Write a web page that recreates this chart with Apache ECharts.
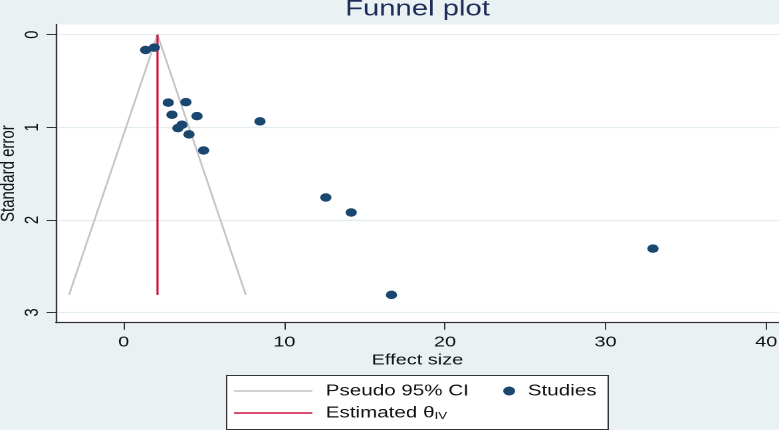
<!DOCTYPE html>
<html><head><meta charset="utf-8">
<script src="https://cdn.jsdelivr.net/npm/echarts@6/dist/echarts.min.js"></script>
<style>
html,body{margin:0;padding:0;overflow:hidden;background:#e9f1f3;width:779px;height:430px}
#c{width:586px;height:430px;transform:scaleX(1.3294);transform-origin:0 0;}
</style></head><body><div id="c"></div>
<script>
// Study points (effect size, standard error)
const studyEffect = [1.36, 1.90, 2.77, 3.87, 3.00, 4.56, 8.48, 3.37, 3.62, 4.06, 4.97, 12.58, 14.16, 32.95, 16.67];
const studySE     = [0.165, 0.14, 0.734, 0.728, 0.864, 0.879, 0.936, 1.009, 0.972, 1.077, 1.25, 1.758, 1.92, 2.31, 2.81];
// Pseudo 95% CI funnel (left bottom, apex, right bottom)
const ciEffect = [-3.41, 2.10, 7.60];
const ciSE     = [2.81, 0, 2.81];
// Estimated theta (IV) line
const thetaEffect = [2.10, 2.10];
const thetaSE     = [0, 2.81];
// Tick labels
const xTicks = [0, 10, 20, 30, 40];
const yTicks = [0, 1, 2, 3];

const FONT = 'Liberation Sans, Arial, sans-serif';
const zip = (a, b) => a.map((v, i) => [v, b[i]]);

const chart = echarts.init(document.getElementById('c'), null, {devicePixelRatio: 2});
chart.setOption({
  animation: false,
  backgroundColor: '#e9f1f3',
  textStyle: {fontFamily: FONT},
  title: {
    text: 'Funnel plot', left: 314, textAlign: 'center', top: -1.5, padding: 0,
    textStyle: {fontFamily: FONT, fontSize: 22, fontWeight: 'normal', color: '#1e2c5a'}
  },
  grid: {
    left: 42, right: 0, top: 24.5, bottom: 107.3,
    show: true, backgroundColor: '#ffffff', borderWidth: 0,
    containLabel: false, outerBoundsMode: 'none'
  },
  xAxis: {
    type: 'value', min: -4.23, max: 40.8,
    name: 'Effect size', nameLocation: 'middle', nameGap: 30, nameMoveOverlap: false,
    nameTextStyle: {fontFamily: FONT, fontSize: 15, color: '#111'},
    axisLine: {show: true, onZero: false, lineStyle: {color: '#333', width: 1.2}},
    axisTick: {show: true, length: 7, lineStyle: {color: '#333'}, customValues: xTicks},
    axisLabel: {fontFamily: FONT, fontSize: 15, color: '#111', margin: 12, customValues: xTicks},
    splitLine: {show: false}
  },
  yAxis: {
    type: 'value', inverse: true, min: -0.11, max: 3.11,
    name: 'Standard error', nameLocation: 'middle', nameGap: 28, nameRotate: 90, nameMoveOverlap: false,
    nameTextStyle: {fontFamily: FONT, fontSize: 15, color: '#111'},
    axisLine: {show: true, onZero: false, lineStyle: {color: '#333', width: 1.2}},
    axisTick: {show: true, length: 7, lineStyle: {color: '#333'}, customValues: yTicks},
    axisLabel: {fontFamily: FONT, fontSize: 15, color: '#111', margin: 10, rotate: 90, customValues: yTicks},
    splitLine: {show: true, lineStyle: {color: '#e3edef', width: 1.2}}
  },
  legend: [
    {
      data: [{name: 'Pseudo 95% CI', icon: 'rect'}, {name: 'Estimated θIV', icon: 'rect'}],
      orient: 'vertical', symbolKeepAspect: false,
      left: 176, top: 383, padding: 0, itemWidth: 59, itemHeight: 1.6, itemGap: 6,
      selectedMode: false,
      formatter: n => n === 'Estimated θIV' ? 'Estimated θ{sub|IV}' : n,
      textStyle: {fontFamily: FONT, fontSize: 15.5, color: '#111', lineHeight: 16, padding: [0, 0, 0, 5],
        rich: {sub: {fontFamily: FONT, fontSize: 10, lineHeight: 10, verticalAlign: 'bottom'}}}
    },
    {
      data: [{name: 'Studies', icon: 'circle'}],
      left: 378.5, top: 383, padding: 0, itemWidth: 18, itemHeight: 9,
      selectedMode: false,
      textStyle: {fontFamily: FONT, fontSize: 15.5, color: '#111', lineHeight: 16}
    }
  ],
  graphic: [{
    type: 'rect', left: 170, top: 375, z: 0,
    shape: {width: 287, height: 54},
    style: {fill: '#ffffff', stroke: '#333333', lineWidth: 1}
  }],
  series: [
    {
      name: 'Pseudo 95% CI', type: 'line', symbol: 'none',
      data: zip(ciEffect, ciSE),
      lineStyle: {color: '#c4c4c4', width: 1.4}, itemStyle: {color: '#c4c4c4'}, z: 2
    },
    {
      name: 'Estimated θIV', type: 'line', symbol: 'none',
      data: zip(thetaEffect, thetaSE),
      lineStyle: {color: '#cc1640', width: 1.6}, itemStyle: {color: '#cc1640'}, z: 3
    },
    {
      name: 'Studies', type: 'scatter', symbol: 'circle', symbolSize: 8.5,
      data: zip(studyEffect, studySE),
      itemStyle: {color: '#1a476f', opacity: 1}, z: 4
    }
  ]
});
</script></body></html>
